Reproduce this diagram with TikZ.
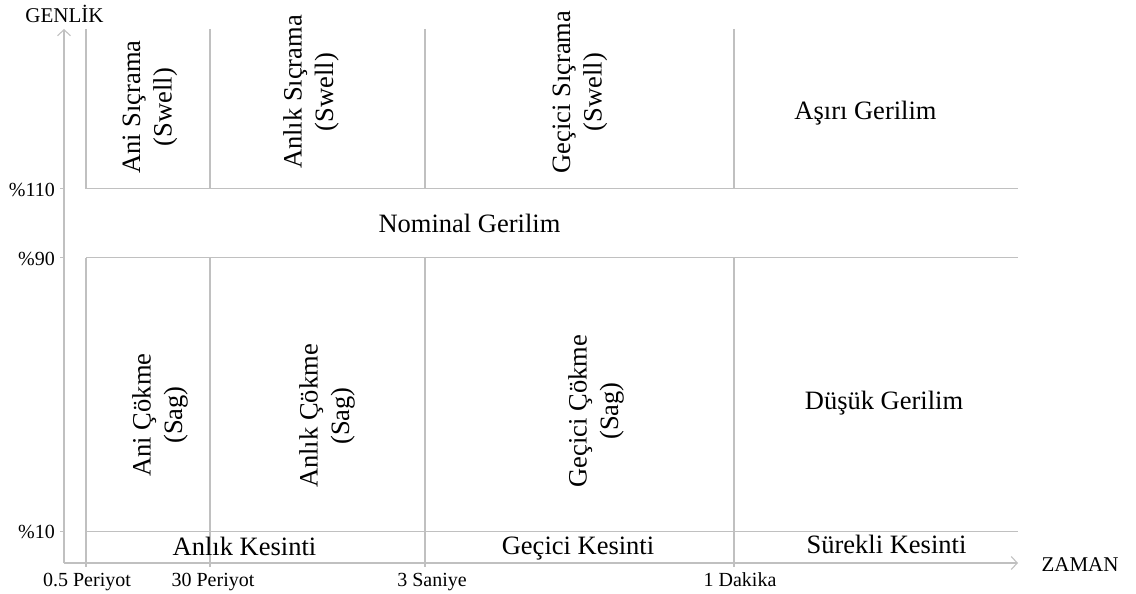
\documentclass[tikz,border=0pt]{standalone}
\usepackage{fontspec}
\setmainfont{Liberation Serif}
\usetikzlibrary{arrows.meta}
\definecolor{gridgray}{RGB}{192,192,192}
\begin{document}
\begin{tikzpicture}[x=1pt,y=-1pt,
  gline/.style={draw=gridgray,line width=1.1pt},
  axisline/.style={draw=gridgray,line width=1.1pt,-{Straight Barb[length=6pt,width=13pt]}},
  lbl/.style={font=\fontsize{26.5}{31.5}\selectfont,inner sep=0pt,anchor=base},
  vlbl/.style={font=\fontsize{26.5}{31.5}\selectfont,inner sep=0pt,rotate=90,align=center},
  tlbl/.style={font=\fontsize{20}{24}\selectfont,inner sep=0pt,anchor=base},
  ylbl/.style={font=\fontsize{20}{24}\selectfont,inner sep=0pt,anchor=base east}]
\useasboundingbox (0,0) rectangle (1136,594);
% axes
\coordinate (O) at (64,563);
\coordinate (Ytop) at (64,29);
\coordinate (Xend) at (1018,563);
\draw[axisline] (O) -- (Ytop);
\draw[axisline] (O) -- (Xend);
% horizontal grid lines and y ticks
\foreach \yy in {188.5,257.5,531.5}{
  \draw[gline] (86,\yy) -- (1018,\yy);
  \draw[gline] (60,\yy) -- (64,\yy);
}
% vertical grid lines
\foreach \xx in {86,210,425,734}{
  \draw[gline] (\xx,29) -- (\xx,188.5);
  \draw[gline] (\xx,257.5) -- (\xx,567);
}
% axis labels
\node[tlbl,font=\fontsize{21}{25}\selectfont] (genlik) at (64.5,23) {GENLİK};
\node[tlbl,font=\fontsize{21}{25}\selectfont] (zaman) at (1080,571) {ZAMAN};
\node[ylbl] (p110) at (55,196) {\%110};
\node[ylbl] (p90) at (55,265) {\%90};
\node[ylbl] (p10) at (55,538) {\%10};
\node[tlbl] (t1) at (87,586) {0.5 Periyot};
\node[tlbl] (t2) at (213,586) {30 Periyot};
\node[tlbl] (t3) at (432,586) {3 Saniye};
\node[tlbl] (t4) at (740,586) {1 Dakika};
% region labels
\node[vlbl] (s1) at (150,107) {Ani Sıçrama\\(Swell)};
\node[vlbl] (s2) at (311,92) {Anlık Sıçrama\\(Swell)};
\node[vlbl] (s3) at (580,92) {Geçici Sıçrama\\(Swell)};
\node[lbl] (over) at (865.5,120) {Aşırı Gerilim};
\node[lbl] (nom) at (469.5,232) {Nominal Gerilim};
\node[vlbl] (c1) at (160,415) {Ani Çökme\\(Sag)};
\node[vlbl] (c2) at (327,416) {Anlık Çökme\\(Sag)};
\node[vlbl] (c3) at (596,411) {Geçici Çökme\\(Sag)};
\node[lbl] (under) at (884,409) {Düşük Gerilim};
\node[lbl] (k1) at (244.5,555) {Anlık Kesinti};
\node[lbl] (k2) at (578,554) {Geçici Kesinti};
\node[lbl] (k3) at (886.5,553) {Sürekli Kesinti};
\end{tikzpicture}
\end{document}
